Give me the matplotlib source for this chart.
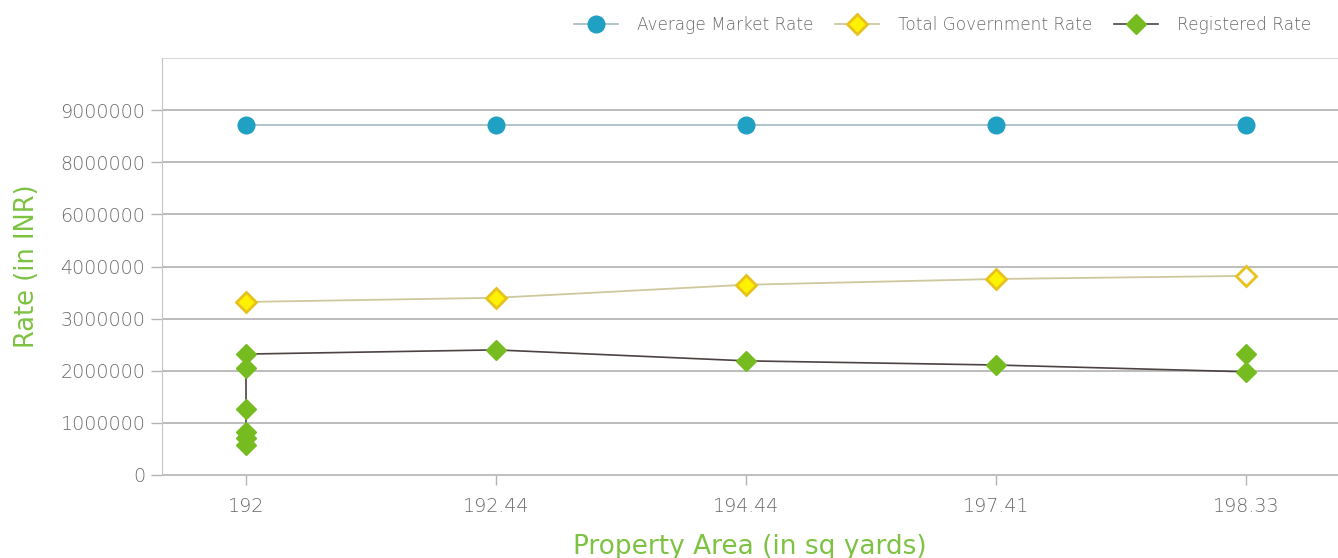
import numpy as np
import matplotlib
matplotlib.use("Agg")
import matplotlib.pyplot as plt
from matplotlib.lines import Line2D

# ---- data ----
areas = ["192", "192.44", "194.44", "197.41", "198.33"]
market_x = [0, 1, 2, 3, 4]
market_rate = [8720000, 8720000, 8720000, 8720000, 8720000]
govt_x = [0, 1, 2, 3, 4]
govt_rate = [3320000, 3400000, 3650000, 3760000, 3820000]
reg_x = [0, 0, 0, 0, 0, 0, 1, 2, 3, 4, 4]
reg_rate = [580000, 710000, 830000, 1270000, 2050000, 2320000,
            2400000, 2190000, 2110000, 1980000, 2320000]
ytick_vals = [0, 1000000, 2000000, 3000000, 4000000, 6000000, 8000000, 9000000]
ytick_labels = ["0", "1000000", "2000000", "3000000", "4000000", "6000000", "8000000", "9000000"]

# non-uniform axis breakpoints (values placed at equal spacing)
scale_vals = [0, 1e6, 2e6, 3e6, 4e6, 6e6, 8e6, 9e6, 10e6]
scale_pos = list(range(len(scale_vals)))

def fwd(v):
    return np.interp(v, scale_vals, scale_pos)

def inv(p):
    return np.interp(p, scale_pos, scale_vals)

plt.rcParams['font.family'] = ['DejaVu Sans']
plt.rcParams['font.weight'] = 'light'

fig = plt.figure(figsize=(13.38, 5.58), dpi=100)
ax = fig.add_axes([162/1338, (558-475)/558, 1 - 162/1338, (475-58)/558])
ax.set_yscale('function', functions=(fwd, inv))
ax.set_ylim(0, 10e6)
ax.set_xlim(-0.336, 4.368)

grey_txt = "#6a6a6a"
green = "#7dc242"

# gridlines
for v in ytick_vals:
    ax.axhline(v, color="#b0b0b0", lw=1.2, zorder=0)
ax.axhline(10e6, color="#cfcfcf", lw=1.2, zorder=0)

ax.plot(market_x, market_rate, color="#a9c0c6", lw=1.3, marker='o', ms=12,
        mfc="#20a0c2", mec="#20a0c2", zorder=3)
ax.plot(govt_x, govt_rate, color="#cdc89e", lw=1.3, zorder=3)
ax.plot(govt_x[:-1], govt_rate[:-1], ls='none', marker='D', ms=10, mfc="#fff200",
        mec="#e8c21c", mew=2, zorder=4)
ax.plot(govt_x[-1:], govt_rate[-1:], ls='none', marker='D', ms=10, mfc="white",
        mec="#e8c21c", mew=2, zorder=4)
ax.plot(reg_x, reg_rate, color="#4d4242", lw=1.2, marker='D', ms=10,
        mfc="#76bc21", mec="#76bc21", zorder=5)

ax.set_yticks(ytick_vals)
ax.set_yticklabels(ytick_labels)
ax.set_xticks(range(len(areas)))
ax.set_xticklabels(areas)
ax.tick_params(axis='y', length=8, width=1, color="#b3b3b3", labelcolor=grey_txt,
               labelsize=13.8, pad=4)
ax.tick_params(axis='x', length=7, width=1, color="#b3b3b3", labelcolor=grey_txt,
               labelsize=13.8, pad=9)
ax.yaxis.set_minor_locator(matplotlib.ticker.NullLocator())

for s in ['top', 'right']:
    ax.spines[s].set_visible(False)
ax.spines['left'].set_color("#c4c4c4")
ax.spines['bottom'].set_color("#c4c4c4")

ax.set_ylabel("Rate (in INR)", color=green, fontsize=18.5, labelpad=15)
ax.set_xlabel("Property Area (in sq yards)", color=green, fontsize=19, labelpad=13)

handles = [
    Line2D([], [], color="#a9c0c6", lw=1.3, marker='o', ms=12, mfc="#20a0c2", mec="#20a0c2"),
    Line2D([], [], color="#cdc89e", lw=1.3, marker='D', ms=10, mfc="#fff200", mec="#e8c21c", mew=2),
    Line2D([], [], color="#4d4242", lw=1.2, marker='D', ms=10, mfc="#76bc21", mec="#76bc21"),
]
leg = fig.legend(handles, ["Average Market Rate", "Total Government Rate", "Registered Rate"],
                 loc='upper right', bbox_to_anchor=(0.991, 0.998), ncol=3, frameon=False,
                 fontsize=12.2, handlelength=2.6, columnspacing=1.3, handletextpad=1.1)
for t in leg.get_texts():
    t.set_color(grey_txt)

fig.savefig("out.png", dpi=100)
